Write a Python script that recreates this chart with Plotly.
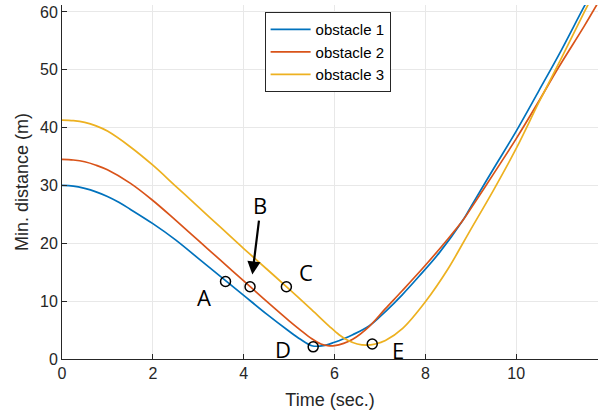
import plotly.graph_objects as go

# ---- data ----
t1 = [0, 0.25, 0.5, 0.75, 1.0, 1.25, 1.5, 2.0, 2.5, 3.0, 3.5, 4.0, 4.5, 5.0, 5.25, 5.5, 5.75, 6.0, 6.2, 6.4, 6.76, 7.12, 7.49, 7.86, 8.3, 8.81, 9.0, 9.5, 10.0, 10.5, 11.0, 11.5, 11.8]
d1 = [30.0, 29.9, 29.5, 28.9, 28.1, 27.1, 25.9, 23.4, 20.6, 17.4, 14.2, 11.0, 7.8, 4.8, 3.4, 2.3, 2.3, 2.9, 3.5, 4.2, 5.7, 8.2, 11.1, 14.3, 18.3, 23.8, 26.3, 32.9, 39.4, 46.4, 53.5, 61.0, 65.2]

t2 = [0, 0.25, 0.5, 0.75, 1.0, 1.5, 2.0, 2.5, 3.0, 3.5, 4.0, 4.5, 5.0, 5.25, 5.5, 5.7, 5.85, 6.0, 6.2, 6.4, 6.76, 7.12, 7.49, 8.0, 8.5, 8.81, 9.0, 9.5, 10.0, 10.5, 10.9, 11.5, 11.8]
d2 = [34.5, 34.4, 34.1, 33.5, 32.7, 30.4, 27.4, 24.0, 20.5, 17.0, 13.5, 10.0, 6.6, 5.0, 3.5, 2.6, 2.3, 2.3, 2.7, 3.4, 5.6, 8.7, 11.8, 16.2, 20.8, 23.8, 26.0, 32.0, 38.1, 44.6, 50.0, 57.6, 61.6]

t3 = [0, 0.25, 0.5, 0.75, 1.0, 1.5, 2.0, 2.5, 3.0, 3.5, 4.0, 4.5, 5.0, 5.5, 5.88, 6.1, 6.3, 6.5, 6.7, 6.9, 7.12, 7.5, 8.0, 8.5, 8.81, 9.0, 9.5, 10.0, 10.5, 11.0, 11.5, 11.8]
d3 = [41.3, 41.2, 40.9, 40.3, 39.4, 36.7, 33.5, 29.9, 26.3, 22.7, 19.1, 15.6, 12.1, 8.5, 5.7, 4.2, 3.2, 2.6, 2.4, 2.6, 3.2, 5.3, 9.9, 15.6, 19.8, 22.4, 29.2, 36.4, 44.4, 52.1, 60.0, 64.6]

names = ["obstacle 1", "obstacle 2", "obstacle 3"]
colors = ["#0072BD", "#D95319", "#EDB120"]

mark_t = [3.60, 4.14, 4.94, 5.53, 6.83]
mark_d = [13.4, 12.5, 12.5, 2.1, 2.6]

labels = ["A", "B", "C", "D", "E"]
label_t = [3.13, 4.36, 5.37, 4.87, 7.40]
label_d = [10.7, 26.7, 15.1, 1.7, 1.6]

arrow_tail = (4.34, 24.2)
arrow_head = (4.19, 14.6)

x_ticks = [0, 2, 4, 6, 8, 10]
y_ticks = [0, 10, 20, 30, 40, 50, 60]

fig = go.Figure()
for t, d, n, c in zip([t1, t2, t3], [d1, d2, d3], names, colors):
    fig.add_trace(go.Scatter(x=t, y=d, mode="lines", name=n,
                             line=dict(color=c, width=1.7, shape="spline", smoothing=1.0)))

fig.add_trace(go.Scatter(x=mark_t, y=mark_d, mode="markers", showlegend=False,
                         marker=dict(symbol="circle-open", size=10, color="black",
                                     line=dict(width=1.5, color="black"))))

for lab, lx, ly in zip(labels, label_t, label_d):
    fig.add_annotation(x=lx, y=ly, text=lab, showarrow=False,
                       font=dict(family="Open Sans", size=22, color="black"))

fig.add_annotation(x=arrow_head[0], y=arrow_head[1], ax=arrow_tail[0], ay=arrow_tail[1],
                   axref="x", ayref="y", xref="x", yref="y", text="",
                   showarrow=True, arrowhead=2, arrowsize=1.2, arrowwidth=2.2,
                   arrowcolor="black")

axis_common = dict(showline=True, linecolor="#262626", linewidth=1,
                   ticks="inside", ticklen=5, tickcolor="#262626",
                   showgrid=True, gridcolor="#e8e8e8", gridwidth=1,
                   zeroline=False, mirror=False,
                   tickfont=dict(family="Liberation Sans", size=16, color="#262626"))

fig.update_xaxes(range=[0, 11.8], tickvals=x_ticks,
                 title=dict(text="Time (sec.)", font=dict(family="Liberation Sans", size=18, color="#262626"), standoff=12),
                 **axis_common)
fig.update_yaxes(range=[0, 61.2], tickvals=y_ticks,
                 title=dict(text="Min. distance (m)", font=dict(family="Liberation Sans", size=18, color="#262626"), standoff=6),
                 **axis_common)

fig.update_layout(
    width=606, height=416,
    margin=dict(l=62, r=8, t=5, b=57),
    plot_bgcolor="white", paper_bgcolor="white",
    legend=dict(x=0.378, y=0.98, xanchor="left", yanchor="top",
                bordercolor="#262626", borderwidth=1, bgcolor="white",
                font=dict(family="Liberation Sans", size=15, color="black"),
                itemwidth=40, tracegroupgap=0),
)

fig.write_html("out.html")
